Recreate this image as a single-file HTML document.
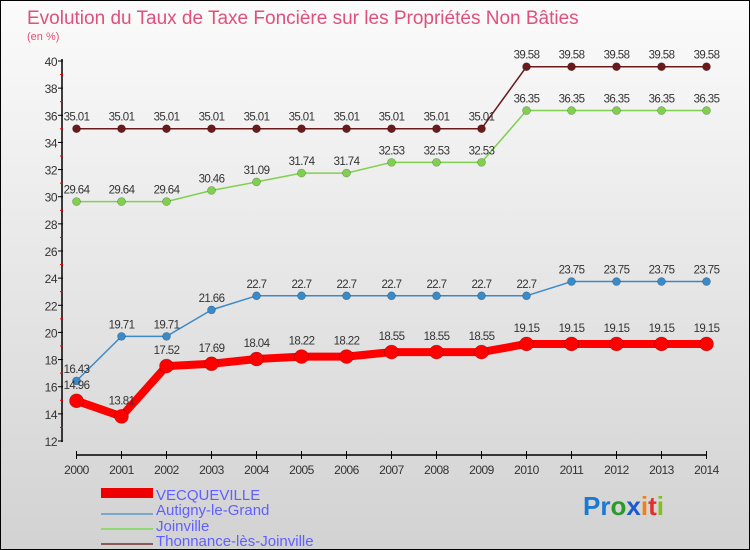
<!DOCTYPE html>
<html><head><meta charset="utf-8"><style>
body{margin:0}
#c{width:750px;height:550px;position:relative;font-family:"Liberation Sans",sans-serif;background:linear-gradient(#fbfbfb,#d2d2d2);box-sizing:border-box;border:1px solid #000;overflow:hidden}
</style></head><body>
<div id="c">
<svg width="750" height="550" id="s" style="position:absolute;left:0;top:0">
<text x="26" y="23" font-size="19" fill="#e0507a">Evolution du Taux de Taxe Foncière sur les Propriétés Non Bâties</text>
<text x="26" y="39" font-size="11" fill="#e0507a">(en %)</text>
<g>
<rect x="100" y="487" width="52" height="10" fill="#e00"/>
<text x="155" y="499" font-size="15" fill="#6060ff">VECQUEVILLE</text>
<rect x="100" y="512" width="52" height="2" fill="#7aa8cc"/>
<text x="155" y="514" font-size="15" fill="#6060ff">Autigny-le-Grand</text>
<rect x="100" y="527" width="52" height="2" fill="#90d870"/>
<text x="155" y="530" font-size="15" fill="#6060ff">Joinville</text>
<rect x="100" y="542" width="52" height="2" fill="#8a5a5a"/>
<text x="155" y="545" font-size="15" fill="#6060ff">Thonnance-lès-Joinville</text>
</g>
<text x="582" y="514" font-size="26" font-weight="bold"><tspan fill="#1a7ad0">Pr</tspan><tspan fill="#2a9a2a">o</tspan><tspan fill="#1a5ad0">x</tspan><tspan fill="#f08010">i</tspan><tspan fill="#e03030">t</tspan><tspan fill="#80c020">i</tspan></text>
<g id="plot"></g>
</svg>
</div>
<script>
const years=[2000,2001,2002,2003,2004,2005,2006,2007,2008,2009,2010,2011,2012,2013,2014];
const vecqueville=[14.96,13.81,17.52,17.69,18.04,18.22,18.22,18.55,18.55,18.55,19.15,19.15,19.15,19.15,19.15];
const autigny=[16.43,19.71,19.71,21.66,22.7,22.7,22.7,22.7,22.7,22.7,22.7,23.75,23.75,23.75,23.75];
const joinville=[29.64,29.64,29.64,30.46,31.09,31.74,31.74,32.53,32.53,32.53,36.35,36.35,36.35,36.35,36.35];
const thonnance=[35.01,35.01,35.01,35.01,35.01,35.01,35.01,35.01,35.01,35.01,39.58,39.58,39.58,39.58,39.58];
const yTicks=[12,14,16,18,20,22,24,26,28,30,32,34,36,38,40];
const NS="http://www.w3.org/2000/svg";
const g=document.getElementById('plot');
const X=i=>75.5+i*(705.5-75.5)/(years.length-1);
const Y=v=>440-(v-12)*(380/28);
function el(t,a){const e=document.createElementNS(NS,t);for(const k in a)e.setAttribute(k,a[k]);g.appendChild(e);return e;}
let e=el('line',{x1:61,y1:58,x2:61,y2:441,stroke:'#000','stroke-width':1.5});


e=el('line',{x1:75,y1:454,x2:706,y2:454,stroke:'#000','stroke-width':1.5});


yTicks.forEach(v=>{
 let t=el('line',{x1:57,y1:Y(v),x2:62,y2:Y(v),stroke:'#000'});
 
 
 if(v<40){let m=el('line',{x1:59,y1:Y(v+1),x2:62,y2:Y(v+1),stroke:'#e00'});
 
 }
 let l=el('text',{x:56,y:Y(v)+5,'font-size':12,fill:'#333','text-anchor':'end','letter-spacing':'-0.5'});
 l.textContent=v;
 
 
});
years.forEach((y,i)=>{
 let t=el('line',{x1:X(i),y1:450,x2:X(i),y2:458,stroke:'#000'});
 
 
 let l=el('text',{x:X(i),y:473,'font-size':12,fill:'#333','text-anchor':'middle','letter-spacing':'-0.5'});
 l.textContent=y;
 
 
});
function series(data,color,w,r,name,dy){
 const p=el('polyline',{points:data.map((v,i)=>X(i)+','+Y(v)).join(' '),fill:'none',stroke:color,'stroke-width':w,'stroke-linejoin':'round'});
 
 
 data.forEach((v,i)=>{
  const c=el('circle',{cx:X(i),cy:Y(v),r:r,fill:color,stroke:'rgba(0,0,0,0.3)','stroke-width':0.6});
  
  
  const t=el('text',{x:X(i),y:Y(v)-dy,'font-size':11.5,fill:'#333','text-anchor':'middle','letter-spacing':'-0.6'});
  t.textContent=String(v);
  
  
 });
}
series(thonnance,'#6a1a1a',1.5,4,'thonnance',8);
series(joinville,'#80d050',1.5,4,'joinville',8);
series(autigny,'#3a8ac8',1.5,4,'autigny',8);
series(vecqueville,'#f00',8,7,'vecqueville',12);
</script>
</body></html>
